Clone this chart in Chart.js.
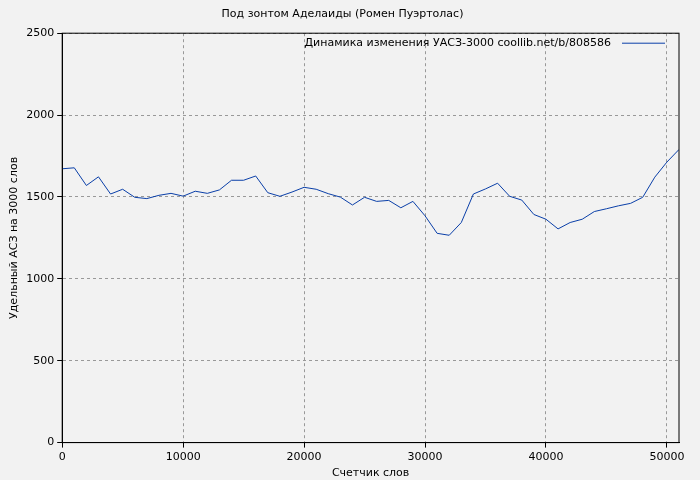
<!DOCTYPE html>
<html><head><meta charset="utf-8">
<script src="https://cdn.jsdelivr.net/npm/chart.js@4"></script>
<style>html,body{margin:0;background:#f2f2f2}#wrap{width:700px;height:480px}</style>
</head><body><div id="wrap"><canvas id="myChart"></canvas></div>
<script>
const words = []
for (let w = 0; w <= 51000; w += 1000) words.push(w)
const values = [1672, 1678, 1570, 1623, 1518, 1547, 1498, 1490, 1510, 1522,
    1505, 1535, 1522, 1543, 1602, 1602, 1628, 1526, 1504, 1530,
    1559, 1547, 1520, 1499, 1451, 1498, 1473, 1479, 1434, 1473,
    1385, 1278, 1266, 1344, 1518, 1549, 1584, 1504, 1481, 1393,
    1364, 1305, 1344, 1364, 1411, 1428, 1446, 1461, 1498, 1621,
    1713, 1790]
const xTicks = [0, 10000, 20000, 30000, 40000, 50000]
const seriesLabel = 'Динамика изменения УАСЗ-3000 coollib.net/b/808586'
const font = { family: 'DejaVu Sans', size: 11 }

const legendPlugin = {
    id: 'gnuLegend',
    afterDraw(chart) {
        const { ctx, chartArea } = chart
        ctx.save()
        ctx.font = '11px "DejaVu Sans"'
        ctx.fillStyle = '#000'
        ctx.textAlign = 'right'
        ctx.textBaseline = 'middle'
        const y = chartArea.top + 10
        ctx.fillText(seriesLabel, chartArea.right - 68, y)
        ctx.strokeStyle = '#0a3fa8'
        ctx.lineWidth = 1
        ctx.beginPath()
        ctx.moveTo(chartArea.right - 57, y)
        ctx.lineTo(chartArea.right - 14, y)
        ctx.stroke()
        ctx.strokeStyle = '#000'
        ctx.strokeRect(chartArea.left, chartArea.top, chartArea.right - chartArea.left, chartArea.bottom - chartArea.top)
        ctx.restore()
    }
}

new Chart(document.getElementById('myChart'), {
    type: 'line',
    data: {
        datasets: [{
            data: words.map((w, i) => ({ x: w, y: values[i] })),
            borderColor: '#0a3fa8',
            borderWidth: 1,
            pointRadius: 0,
            fill: false,
            tension: 0
        }]
    },
    options: {
        responsive: true,
        maintainAspectRatio: false,
        animation: false,
        layout: { padding: { top: 6, right: 21, left: 6, bottom: 0 } },
        plugins: {
            legend: { display: false },
            tooltip: { enabled: false },
            title: { display: true, text: 'Под зонтом Аделаиды (Ромен Пуэртолас)', color: '#000', font: { family: 'DejaVu Sans', size: 11, weight: 'normal' }, padding: { top: 2, bottom: 12 } }
        },
        scales: {
            x: {
                type: 'linear', min: 0, max: 51000,
                afterBuildTicks: axis => { axis.ticks = xTicks.map(v => ({ value: v })) },
                ticks: { color: '#000', font, maxRotation: 0, callback: v => String(v) },
                grid: { color: '#999', tickColor: '#000', tickLength: 5 },
                border: { dash: [3, 3], color: '#000' },
                title: { display: true, text: 'Счетчик слов', color: '#000', font, padding: 0 }
            },
            y: {
                min: 0, max: 2500,
                ticks: { stepSize: 500, color: '#000', font, callback: v => String(v) },
                grid: { color: '#999', tickColor: '#000', tickLength: 5 },
                border: { dash: [3, 3], color: '#000' },
                title: { display: true, text: 'Удельный АСЗ на 3000 слов', color: '#000', font, padding: 2 }
            }
        }
    },
    plugins: [legendPlugin]
})
</script></body></html>
